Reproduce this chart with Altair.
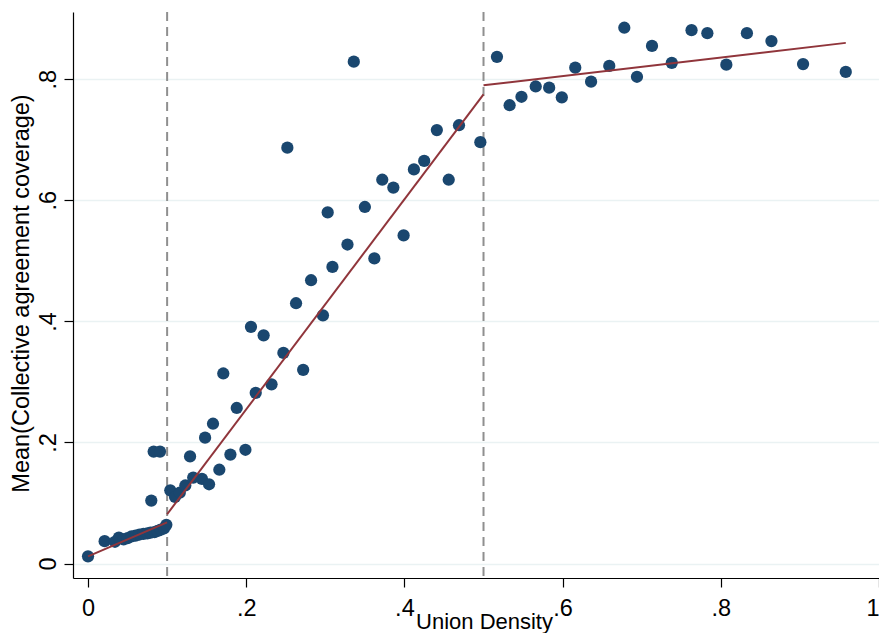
import altair as alt
import pandas as pd

# Scatter points (binned means)
union_density = [
    0.000, 0.021, 0.034, 0.039, 0.045, 0.050, 0.055, 0.060, 0.065, 0.070,
    0.075, 0.079, 0.080, 0.083, 0.084, 0.088, 0.091, 0.092, 0.096, 0.099,
    0.104, 0.110, 0.116, 0.123, 0.129, 0.133, 0.144, 0.148, 0.153, 0.158,
    0.166, 0.171, 0.180, 0.188, 0.199, 0.206, 0.212, 0.222, 0.232, 0.247,
    0.252, 0.263, 0.272, 0.282, 0.297, 0.303, 0.309, 0.328, 0.336, 0.350,
    0.362, 0.372, 0.386, 0.399, 0.412, 0.425, 0.441, 0.456, 0.469, 0.496,
    0.517, 0.533, 0.548, 0.566, 0.583, 0.599, 0.616, 0.636, 0.659, 0.678,
    0.694, 0.713, 0.738, 0.763, 0.783, 0.807, 0.833, 0.864, 0.904, 0.958,
]
coverage = [
    0.012, 0.037, 0.036, 0.043, 0.040, 0.042, 0.045, 0.046, 0.048, 0.049,
    0.050, 0.051, 0.104, 0.185, 0.052, 0.054, 0.185, 0.056, 0.058, 0.064,
    0.121, 0.110, 0.117, 0.129, 0.177, 0.142, 0.140, 0.208, 0.131, 0.231,
    0.155, 0.314, 0.180, 0.257, 0.188, 0.391, 0.282, 0.377, 0.296, 0.348,
    0.687, 0.430, 0.320, 0.468, 0.410, 0.580, 0.490, 0.527, 0.829, 0.589,
    0.504, 0.634, 0.621, 0.542, 0.651, 0.665, 0.716, 0.634, 0.724, 0.696,
    0.837, 0.757, 0.771, 0.788, 0.786, 0.770, 0.819, 0.796, 0.822, 0.885,
    0.804, 0.855, 0.827, 0.881, 0.876, 0.824, 0.876, 0.863, 0.825, 0.812,
]

# Piecewise linear fits (segment endpoints)
fit_segment = [1, 1, 2, 2, 3, 3]
fit_x = [0.0, 0.1, 0.1, 0.5, 0.5, 0.958]
fit_y = [0.012, 0.068, 0.0815, 0.775, 0.790, 0.860]

# Thresholds (dashed vertical lines)
thresholds = [0.1, 0.5]

x_ticks = [0, 0.2, 0.4, 0.6, 0.8, 1]
y_ticks = [0, 0.2, 0.4, 0.6, 0.8]

pts = pd.DataFrame({"x": union_density, "y": coverage})
fits = pd.DataFrame({"x": fit_x, "y": fit_y, "seg": fit_segment})
thr = pd.DataFrame({"x": thresholds})

label_expr = "datum.value == 0 ? '0' : datum.value == 1 ? '1' : '.' + format(datum.value * 10, 'd')"

FONT = "Liberation Sans"
W, H = 806, 566

x_scale = alt.Scale(domain=[-0.019, 1.0], nice=False, zero=False)
y_scale = alt.Scale(domain=[-0.0238, 0.911], nice=False, zero=False)

x_axis = alt.Axis(
    values=x_ticks, labelExpr=label_expr, title="Union Density",
    grid=False, tickSize=9, labelPadding=9, labelFontSize=23.5, labelFont=FONT,
    labelColor="#000000", labelAlign={"expr": "datum.value == 1 ? 'right' : 'center'"},
    titleFontSize=22, titleFont=FONT, titleFontWeight="normal",
    titleColor="#000000", titleX=411, titleY=50, titleBaseline="alphabetic",
    titleAlign="center", domainColor="#000000", tickColor="#000000",
    domainWidth=1.2, tickWidth=1.2, labelFlush=False, labelOverlap=False,
)
y_axis = alt.Axis(
    values=y_ticks, labelExpr=label_expr, title="Mean(Collective agreement coverage)",
    grid=True, gridColor="#eaf2f3", gridWidth=1.5, tickSize=9, labelPadding=9,
    labelFontSize=23.5, labelFont=FONT, labelColor="#000000", labelAngle=270,
    labelAlign="center", labelBaseline="alphabetic",
    titleFontSize=23.5, titleFont=FONT, titleFontWeight="normal", titleColor="#000000",
    titleAngle=270, titleX=-45, titleY=281, titleBaseline="alphabetic", titleAlign="center",
    domainColor="#000000", tickColor="#000000", domainWidth=1.2, tickWidth=1.2,
    labelFlush=False, labelOverlap=False,
)

rules = alt.Chart(thr).mark_rule(
    color="#8f8f8f", strokeDash=[9, 6], strokeWidth=2
).encode(x=alt.X("x:Q", scale=x_scale, axis=x_axis))

lines = alt.Chart(fits).mark_line(color="#90353b", strokeWidth=2).encode(
    x=alt.X("x:Q", scale=x_scale, axis=x_axis),
    y=alt.Y("y:Q", scale=y_scale, axis=y_axis),
    detail="seg:N",
)

points = alt.Chart(pts).mark_circle(size=150, color="#1a476f", opacity=1).encode(
    x=alt.X("x:Q", scale=x_scale, axis=x_axis),
    y=alt.Y("y:Q", scale=y_scale, axis=y_axis),
)

chart = alt.layer(rules, points, lines).properties(
    width=W, height=H,
    autosize=alt.AutoSizeParams(type="none"),
    padding={"left": 65, "top": 4, "right": 0, "bottom": 55},
    background="white",
).configure_view(stroke=None)

chart.save("out.html", embed_options={"renderer": "svg", "actions": False})
